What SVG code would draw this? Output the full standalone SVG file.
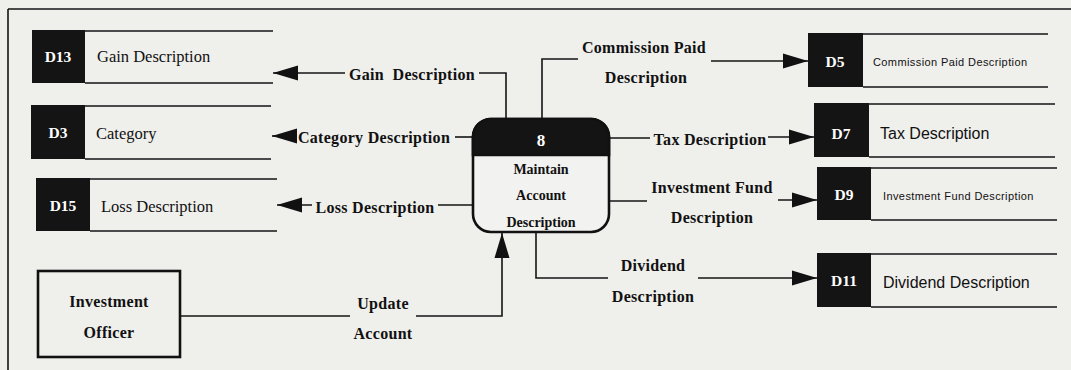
<svg xmlns="http://www.w3.org/2000/svg" width="1071" height="370" viewBox="0 0 1071 370">
<style>
.lbl{font-family:"Liberation Serif","Times New Roman",serif;font-weight:bold;font-size:16px;letter-spacing:0.3px;fill:#111;text-anchor:middle}
.sid{font-family:"Liberation Serif","Times New Roman",serif;font-weight:bold;font-size:15.5px;fill:#fff;text-anchor:middle}
.stl{font-family:"Liberation Serif","Times New Roman",serif;font-size:16.5px;fill:#111}
.str{font-family:"Liberation Sans",Arial,sans-serif;font-size:16px;fill:#111}
.sml{font-family:"Liberation Sans",Arial,sans-serif;font-size:11px;letter-spacing:0.4px;fill:#111}
.box{fill:#141414}
.ln{stroke:#151515;stroke-width:1.6;fill:none}
.con{stroke:#151515;stroke-width:1.6;fill:none}
.arr{stroke:#151515;stroke-width:1.6;fill:none;marker-end:url(#ah)}
.ptxt{font-family:"Liberation Serif","Times New Roman",serif;font-weight:bold;font-size:14px;fill:#111;text-anchor:middle}
</style>
<defs>
<marker id="ah" markerUnits="userSpaceOnUse" markerWidth="26" markerHeight="16" refX="25" refY="8" orient="auto">
<path d="M0,0.5 L25,8 L0,15.5 z" fill="#111"/>
</marker>
</defs>
<rect x="0" y="0" width="1071" height="370" fill="#efefec"/>
<path class="ln" d="M8,9 H1071 M8,9 V370" stroke-width="2"/>

<g id="connectors">
<path class="con" d="M506,120 V73 H479"/>
<path class="arr" d="M345,73 H273"/>
<path class="con" d="M542,119 V59 H578"/>
<path class="arr" d="M711,61 H808"/>
<path class="con" d="M473,137 H455"/>
<path class="arr" d="M297,136 H272"/>
<path class="con" d="M609,138 H650"/>
<path class="arr" d="M768,137 H814"/>
<path class="con" d="M473,205 H438"/>
<path class="arr" d="M312,205 H277"/>
<path class="con" d="M609,201 H647"/>
<path class="arr" d="M778,200 H817"/>
<path class="con" d="M536,232 V278 H608"/>
<path class="arr" d="M698,278 H817"/>
<path class="con" d="M180,316 H350"/>
<path class="arr" d="M416,316 H502 V233"/>
<text class="lbl" x="412" y="80" xml:space="preserve">Gain  Description</text>
<text class="lbl" x="644" y="53">Commission Paid</text>
<text class="lbl" x="646" y="83">Description</text>
<text class="lbl" x="374" y="143">Category Description</text>
<text class="lbl" x="710" y="145">Tax Description</text>
<text class="lbl" x="375" y="213">Loss Description</text>
<text class="lbl" x="712" y="193">Investment Fund</text>
<text class="lbl" x="712" y="223">Description</text>
<text class="lbl" x="653" y="271">Dividend</text>
<text class="lbl" x="653" y="302">Description</text>
<text class="lbl" x="383" y="309">Update</text>
<text class="lbl" x="383" y="339">Account</text>
</g>

<g id="process8">
<rect x="473" y="119" width="136" height="113" rx="18" fill="#f2f2f0" stroke="#111" stroke-width="2.6"/>
<path d="M473,155 V137 A18,18 0 0 1 491,119 H591 A18,18 0 0 1 609,137 V155 Z" fill="#141414" stroke="#111" stroke-width="2.6"/>
<text x="541" y="146" font-family="Liberation Serif, serif" font-weight="bold" font-size="17" fill="#fff" text-anchor="middle">8</text>
<text class="ptxt" x="541" y="174">Maintain</text>
<text class="ptxt" x="541" y="200">Account</text>
<text class="ptxt" x="541" y="227">Description</text>
</g>

<g id="D13">
<rect class="box" x="32" y="30" width="53" height="53"/>
<path class="ln" d="M85,31 H273 M85,83 H273"/>
<text class="sid" x="58" y="62">D13</text>
<text class="stl" x="97" y="62">Gain Description</text>
</g>
<g id="D3">
<rect class="box" x="31" y="105" width="54" height="54"/>
<path class="ln" d="M85,106 H271 M85,159 H271"/>
<text class="sid" x="58" y="138">D3</text>
<text class="stl" x="96" y="139">Category</text>
</g>
<g id="D15">
<rect class="box" x="36" y="178" width="54" height="53"/>
<path class="ln" d="M90,179 H277 M90,231 H277"/>
<text class="sid" x="63" y="211">D15</text>
<text class="stl" x="101" y="212">Loss Description</text>
</g>
<g id="D5">
<rect class="box" x="808" y="33" width="55" height="54"/>
<path class="ln" d="M863,34 H1048 M863,87 H1048"/>
<text class="sid" x="835" y="67">D5</text>
<text class="sml" x="873" y="66">Commission Paid Description</text>
</g>
<g id="D7">
<rect class="box" x="814" y="103" width="55" height="54"/>
<path class="ln" d="M869,104 H1055 M869,157 H1055"/>
<text class="sid" x="841" y="139">D7</text>
<text class="str" x="880" y="139">Tax Description</text>
</g>
<g id="D9">
<rect class="box" x="817" y="167" width="54" height="53"/>
<path class="ln" d="M871,168 H1057 M871,220 H1057"/>
<text class="sid" x="844" y="200">D9</text>
<text class="sml" x="883" y="200">Investment Fund Description</text>
</g>
<g id="D11">
<rect class="box" x="817" y="253" width="54" height="54"/>
<path class="ln" d="M871,254 H1057 M871,307 H1057"/>
<text class="sid" x="844" y="286">D11</text>
<text class="str" x="883" y="288">Dividend Description</text>
</g>

<g id="investment_officer">
<rect x="38" y="271" width="142" height="86" fill="none" stroke="#111" stroke-width="2.6"/>
<text class="lbl" x="109" y="307" letter-spacing="0.8">Investment</text>
<text class="lbl" x="109" y="338" letter-spacing="0.8">Officer</text>
</g>
</svg>
